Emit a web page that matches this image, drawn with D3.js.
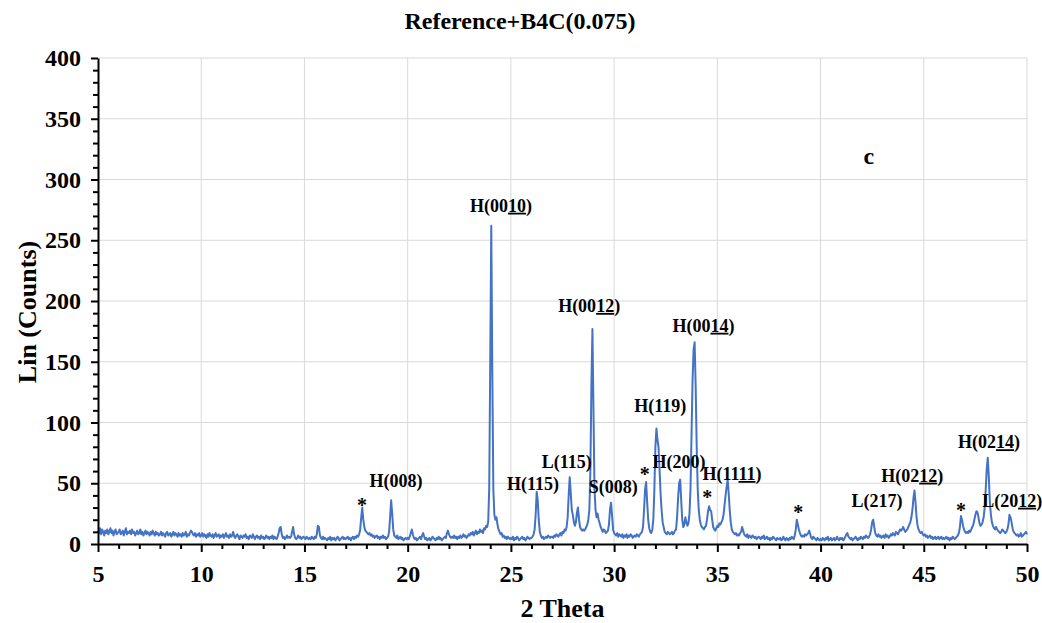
<!DOCTYPE html>
<html>
<head>
<meta charset="utf-8">
<script src="https://cdn.jsdelivr.net/npm/d3@7"></script>
<style>
  body { margin: 0; background: #fff; }
  text { font-family: "Liberation Serif", "Times New Roman", serif; font-weight: bold; fill: #000; }
</style>
</head>
<body>
<div id="chart"></div>
<script>
// chart data
const chartTitle = "Reference+B4C(0.075)";
const xTitle = "2 Theta";
const yTitle = "Lin (Counts)";
const thetaStart = 5;
const thetaStep = 0.05;
// one row per degree (x.00 .. x.95)
const counts = [
  11,9,13,8,12,10,7,11,9,12,8,10,13,9,11,7,10,12,8,9,
  10,12,8,9,11,7,10,13,8,10,9,11,8,12,9,10,7,9,11,8,
  9,12,8,10,7,9,11,8,10,9,7,10,8,11,9,7,10,8,9,7,
  8,10,7,9,8,6,9,10,7,8,9,6,8,10,7,9,8,6,9,7,
  8,6,9,7,8,10,6,8,7,9,11,10,8,7,9,6,8,7,9,6,
  7,9,6,8,7,5,8,6,9,7,6,8,5,7,9,6,7,8,5,7,
  6,8,5,7,9,6,7,5,8,6,7,10,6,5,7,8,6,4,7,6,
  5,7,6,8,5,6,4,7,6,5,8,6,4,6,7,5,6,4,7,5,
  6,4,5,7,5,6,4,6,5,7,4,6,5,4,6,9,13,14,8,5,
  6,4,5,7,5,6,5,6,10,14,8,5,4,5,7,5,6,4,5,6,
  5,4,6,5,4,5,4,6,5,4,6,5,8,15,14,7,5,4,6,4,
  5,4,3,5,4,6,3,5,4,5,3,4,6,5,3,4,5,6,4,5,
  4,5,6,4,5,3,5,6,4,6,5,7,6,8,12,22,30,20,14,11,
  10,9,8,9,7,8,6,7,5,6,7,5,6,4,6,5,7,5,6,4,
  5,6,10,22,36,25,12,7,6,5,7,4,5,6,4,5,3,4,5,4,
  5,4,6,9,12,8,5,4,5,3,4,5,6,4,7,9,6,4,5,3,
  4,5,3,4,6,5,4,3,5,4,6,4,5,3,4,5,6,5,9,11,
  8,6,5,6,5,7,5,6,4,6,5,7,5,6,8,6,7,5,6,8,
  7,9,8,10,7,9,11,8,10,9,12,10,11,9,13,12,15,14,18,45,
  150,262,140,45,24,20,22,16,12,10,8,9,6,7,5,6,4,6,5,4,
  5,4,6,3,5,4,6,5,3,4,5,6,4,5,3,4,6,5,4,5,
  5,6,8,12,24,43,36,20,10,7,5,6,4,5,6,5,7,6,5,6,
  6,5,7,6,8,7,6,8,9,7,10,9,12,11,14,22,40,55,42,28,
  24,18,15,18,26,30,20,14,12,11,12,11,12,14,16,20,28,60,130,177,
  110,45,28,22,25,20,17,14,12,10,12,11,9,10,11,16,28,34,24,12,
  9,8,7,9,6,8,7,6,8,5,7,6,8,5,7,6,8,7,5,6,
  7,6,8,7,6,8,9,10,14,28,45,51,35,20,13,10,9,12,20,45,
  80,95,86,80,62,42,28,18,14,10,9,8,10,9,8,9,10,8,9,11,
  12,22,38,50,53,36,20,14,16,22,18,15,17,25,45,90,135,160,166,130,
  80,45,28,20,16,14,13,12,14,15,20,27,31,28,27,20,14,12,11,13,
  15,14,17,16,18,20,24,32,40,47,53,42,28,18,12,10,9,8,9,7,
  8,7,9,10,14,11,8,7,6,8,5,7,6,5,7,6,5,6,4,5,
  6,5,4,6,5,7,4,5,6,4,5,3,5,4,6,5,4,3,5,4,
  4,5,3,4,6,4,3,5,4,3,5,4,6,5,4,7,12,20,16,12,
  9,7,6,7,6,8,7,8,9,11,8,5,4,6,5,4,3,5,4,3,
  4,3,5,4,3,5,4,6,3,4,5,3,4,5,3,4,6,4,3,5,
  4,5,3,4,6,8,9,6,5,4,5,3,4,5,6,4,3,5,4,6,
  5,4,6,5,7,6,5,6,8,12,18,20,14,9,7,6,8,6,7,5,
  6,7,5,8,6,7,5,6,8,7,9,8,7,10,9,8,10,12,11,12,
  14,12,10,11,12,14,16,18,22,28,38,44,34,22,15,12,10,9,10,8,
  7,8,6,7,5,6,7,5,6,4,5,6,4,5,6,4,5,6,4,5,
  4,5,6,4,5,3,5,4,6,5,4,5,6,7,9,14,23,20,15,12,
  10,9,10,9,11,10,12,14,16,20,24,27,26,22,17,15,16,18,22,30,
  45,62,71,55,35,24,18,15,13,12,14,12,11,10,9,10,12,11,10,9,
  10,12,16,24,22,18,13,10,9,8,7,8,6,7,9,6,7,8,9,10,
  8
];
const xTicks = [5, 10, 15, 20, 25, 30, 35, 40, 45, 50];
const yTicks = [0, 50, 100, 150, 200, 250, 300, 350, 400];

// peak labels: [2theta, counts, text, underlined part, closing]
const peakLabels = [
  [19.44, 47.2, "H(008)", "", ""],
  [24.52, 273.5, "H(00", "10", ")"],
  [26.07, 44.4, "H(115)", "", ""],
  [27.71, 62.3, "L(115)", "", ""],
  [28.79, 191, "H(00", "12", ")"],
  [29.96, 41.7, "S(008)", "", ""],
  [32.23, 108.9, "H(119)", "", ""],
  [33.14, 62.3, "H(200)", "", ""],
  [34.33, 174.7, "H(00", "14", ")"],
  [35.71, 52.7, "H(11", "11", ")"],
  [42.74, 30.2, "L(217)", "", ""],
  [44.44, 51.3, "H(02", "12", ")"],
  [48.16, 78.8, "H(02", "14", ")"],
  [49.28, 30.7, "L(20", "12", ")"]
];
// unindexed peaks marked with *
const starMarks = [
  [17.79, 26.6],
  [31.49, 51.9],
  [34.51, 32.7],
  [38.92, 20.3],
  [46.8, 22]
];
const panelTag = [42.34, 312.8, "c"];

const width = 1042, height = 623;
const margin = { top: 58, right: 15, bottom: 79, left: 98 };
const innerW = width - margin.left - margin.right;
const innerH = height - margin.top - margin.bottom;

const svg = d3.select("#chart").append("svg").attr("width", width).attr("height", height);
const g = svg.append("g").attr("transform", "translate(" + margin.left + "," + margin.top + ")");

const x = d3.scaleLinear().domain([5, 50]).range([0, innerW]);
const y = d3.scaleLinear().domain([0, 400]).range([innerH, 0]);

// grid
g.append("g").selectAll("line").data(yTicks.slice(1)).join("line")
    .attr("x1", 0).attr("x2", innerW).attr("y1", d => y(d)).attr("y2", d => y(d))
    .attr("stroke", "#d9d9d9").attr("stroke-width", 1);
g.append("g").selectAll("line").data(xTicks.slice(1)).join("line")
    .attr("x1", d => x(d)).attr("x2", d => x(d)).attr("y1", 0).attr("y2", innerH)
    .attr("stroke", "#d9d9d9").attr("stroke-width", 1);

// pattern
const points = counts.map((c, i) => [thetaStart + i * thetaStep, c]);
const line = d3.line().x(d => x(d[0])).y(d => y(d[1]));
g.append("path").datum(points)
    .attr("fill", "none").attr("stroke", "#4472c4").attr("stroke-width", 2)
    .attr("stroke-linejoin", "round").attr("d", line);

// axes
const xMinor = d3.range(5, 51).filter(v => v % 5 !== 0);
const yMinor = d3.range(0, 401, 10).filter(v => v % 50 !== 0);

g.append("g").attr("transform", "translate(0," + innerH + ")")
    .call(d3.axisBottom(x).tickValues(xMinor).tickSize(5).tickSizeOuter(0).tickFormat(""))
    .call(a => a.select(".domain").remove())
    .call(a => a.selectAll("line").attr("stroke-width", 2));
const xAxis = g.append("g").attr("transform", "translate(0," + innerH + ")")
    .call(d3.axisBottom(x).tickValues(xTicks).tickSize(8).tickSizeOuter(0).tickPadding(13));

g.append("g")
    .call(d3.axisLeft(y).tickValues(yMinor).tickSize(5).tickSizeOuter(0).tickFormat(""))
    .call(a => a.select(".domain").remove())
    .call(a => a.selectAll("line").attr("stroke-width", 2));
const yAxis = g.append("g")
    .call(d3.axisLeft(y).tickValues(yTicks).tickSize(7).tickSizeOuter(0).tickPadding(10));

[xAxis, yAxis].forEach(a => {
    a.select(".domain").attr("stroke-width", 2);
    a.selectAll(".tick line").attr("stroke-width", 2);
    a.selectAll(".tick text").attr("font-size", 24).attr("font-family", null).attr("fill", "#000");
});
g.selectAll(".tick text").style("font-family", '"Liberation Serif", serif').style("font-weight", "bold");

// labels
const lab = g.append("g");
peakLabels.forEach(p => {
    const t = lab.append("text").attr("x", x(p[0])).attr("y", y(p[1]))
        .attr("text-anchor", "middle").attr("font-size", 18);
    t.append("tspan").text(p[2]);
    if (p[3]) t.append("tspan").style("text-decoration", "underline").text(p[3]);
    if (p[4]) t.append("tspan").text(p[4]);
});
lab.selectAll("text.star").data(starMarks).join("text").attr("class", "star")
    .attr("x", d => x(d[0])).attr("y", d => y(d[1]))
    .attr("text-anchor", "middle").attr("font-size", 20).text("*");
lab.append("text").attr("x", x(panelTag[0])).attr("y", y(panelTag[1]))
    .attr("text-anchor", "middle").attr("font-size", 24).text(panelTag[2]);

// titles
svg.append("text").attr("x", 520).attr("y", 29).attr("text-anchor", "middle")
    .attr("font-size", 24).text(chartTitle);
svg.append("text").attr("x", margin.left + innerW / 2).attr("y", 617).attr("text-anchor", "middle")
    .attr("font-size", 26).text(xTitle);
svg.append("text").attr("transform", "translate(36,312) rotate(-90)").attr("text-anchor", "middle")
    .attr("font-size", 26).text(yTitle);
</script>
</body>
</html>
